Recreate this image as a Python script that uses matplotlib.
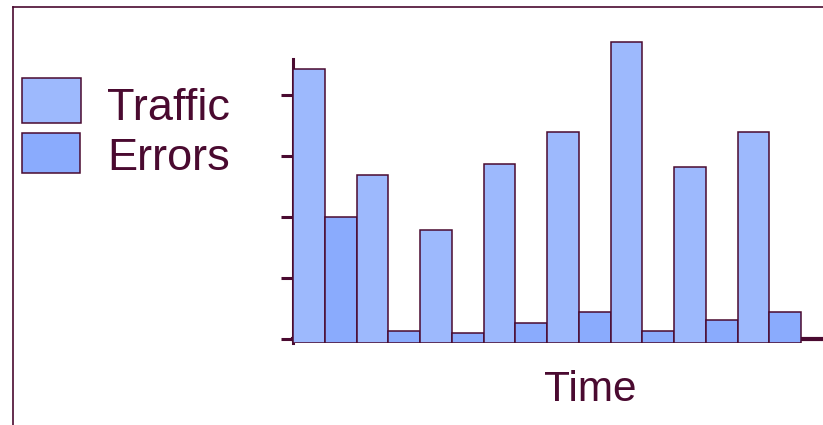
import matplotlib.pyplot as plt
from matplotlib.lines import Line2D
from matplotlib.patches import Rectangle

# Data (arbitrary units, one tick = 1)
traffic = [4.42, 2.68, 1.78, 2.87, 3.39, 4.86, 2.81, 3.39]
errors = [1.99, 0.12, 0.10, 0.25, 0.43, 0.13, 0.30, 0.44]
series_names = ["Traffic", "Errors"]
y_ticks = [0, 1, 2, 3, 4]

INK = "#4a0a30"
TRAFFIC_COLOR = "#9db9fd"
ERRORS_COLOR = "#8aabfd"
FONT = ["Liberation Sans", "DejaVu Sans"]
BAR_BASE = -0.07

W, H = 823, 425


def fx(x):
    return x / W


def fy(y):
    return 1 - y / H


fig = plt.figure(figsize=(W / 100, H / 100), dpi=100)
ax = fig.add_axes([fx(293), fy(343), fx(822) - fx(293), (343 - 33.5) / H])

# grouped bars, traffic then errors, side by side with no gaps
for i, (t, e) in enumerate(zip(traffic, errors)):
    ax.bar(2 * i, t - BAR_BASE, bottom=BAR_BASE, width=1, align="edge",
           color=TRAFFIC_COLOR, edgecolor=INK, linewidth=1.1, zorder=3)
    ax.bar(2 * i + 1, e - BAR_BASE, bottom=BAR_BASE, width=1, align="edge",
           color=ERRORS_COLOR, edgecolor=INK, linewidth=1.1, zorder=3)

ax.set_xlim(0, (822 - 293) / 31.75)
ax.set_ylim(BAR_BASE, 5.0)
ax.set_yticks(y_ticks)
ax.set_yticklabels([])
ax.set_xticks([])
ax.tick_params(axis="y", direction="out", length=8.5, width=2.2, color=INK)

for side in ("top", "right"):
    ax.spines[side].set_visible(False)
ax.spines["left"].set_bounds(BAR_BASE, 4.58)
ax.spines["left"].set_linewidth(2.2)
ax.spines["left"].set_color(INK)
ax.spines["bottom"].set_position(("data", 0))
ax.spines["bottom"].set_linewidth(3)
ax.spines["bottom"].set_color(INK)
ax.spines["bottom"].set_zorder(2)

ax.set_xlabel("Time", fontsize=30.5, color=INK, family=FONT, va="baseline")
ax.xaxis.set_label_coords((590 - 293) / 529, -(400.7 - 343) / 309.5)

# legend drawn by hand: labels are right-aligned in the original
legend_rows = [
    (series_names[0], TRAFFIC_COLOR, 78, 123, 81, 120),
    (series_names[1], ERRORS_COLOR, 132.7, 173.3, 79.7, 170),
]
for label, color, top, bottom, right, baseline in legend_rows:
    fig.add_artist(Rectangle((fx(21.7), fy(bottom)), fx(right) - fx(21.7), (bottom - top) / H,
                             transform=fig.transFigure, facecolor=color,
                             edgecolor=INK, linewidth=1.1))
    fig.text(fx(230), fy(baseline), label, ha="right", va="baseline",
             fontsize=32.5, color=INK, family=FONT)

# outer frame: left and top edges
fig.add_artist(Line2D([fx(12.5), fx(12.5)], [0, fy(7.3)], transform=fig.transFigure,
                      color=INK, linewidth=1.2))
fig.add_artist(Line2D([fx(12.5), 1], [fy(7.3), fy(7.3)], transform=fig.transFigure,
                      color=INK, linewidth=1.2))

fig.savefig("out.png", dpi=100)
